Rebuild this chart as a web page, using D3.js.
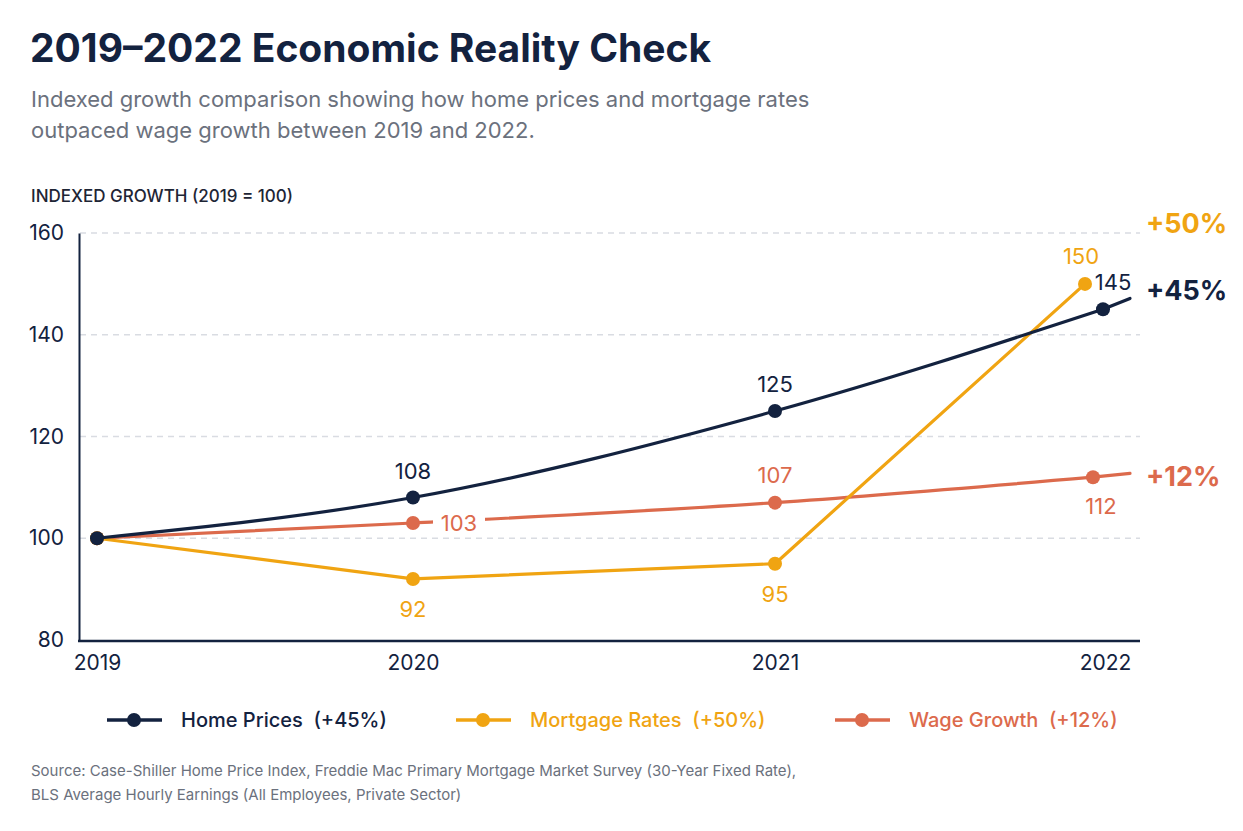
<html>
<head>
<script src="https://d3js.org/d3.v7.min.js"></script>
<style>
  body { margin: 0; background: #fff; }
  text { font-family: Inter, "Noto Sans", sans-serif; }
</style>
</head>
<body>
<script>
  const width = 1243, height = 831;

  // data
  const years = [2019, 2020, 2021, 2022];
  const homePrices = [100, 108, 125, 145];
  const mortgageRates = [100, 92, 95, 150];
  const wageGrowth = [100, 103, 107, 112];
  const yTicks = [80, 100, 120, 140, 160];
  const seriesNames = ["Home Prices", "Mortgage Rates", "Wage Growth"];
  const endLabels = ["+45%", "+50%", "+12%"];

  const navy = "#13223f", gold = "#f0a412", coral = "#dc6a4c";
  const font = "Inter, 'Noto Sans', sans-serif";

  const svg = d3.select("body").append("svg")
    .attr("width", width).attr("height", height);

  // titles
  svg.append("text").attr("x", 30).attr("y", 62)
    .attr("font-size", 39).attr("font-weight", 700).attr("fill", navy)
    .text("2019\u20132022 Economic Reality Check");
  svg.append("text").attr("x", 31).attr("y", 107)
    .attr("font-size", 22).attr("fill", "#6b717d")
    .text("Indexed growth comparison showing how home prices and mortgage rates");
  svg.append("text").attr("x", 31).attr("y", 138)
    .attr("font-size", 22).attr("fill", "#6b717d")
    .text("outpaced wage growth between 2019 and 2022.");
  svg.append("text").attr("x", 31).attr("y", 202)
    .attr("font-size", 17).attr("font-weight", 500).attr("fill", "#1e2535")
    .text("INDEXED GROWTH (2019 = 100)");

  // scales
  const x = d3.scaleLinear().domain(years).range([97, 413, 775, 1095]);
  const y = d3.scaleLinear().domain([80, 160]).range([640, 233]);
  const xEnd = 1140;

  // gridlines
  svg.append("g").selectAll("line").data(yTicks.filter(d => d > 80)).join("line")
    .attr("x1", 80).attr("x2", xEnd)
    .attr("y1", d => y(d)).attr("y2", d => y(d))
    .attr("stroke", "#d9dce2").attr("stroke-width", 1.3)
    .attr("stroke-dasharray", "6,5");

  // axes
  const yAxis = svg.append("g").attr("transform", "translate(79,0)")
    .call(d3.axisLeft(y).tickValues(yTicks).tickSize(0).tickPadding(15));
  yAxis.select(".domain").attr("stroke", navy).attr("stroke-width", 2);
  yAxis.selectAll("text").attr("font-size", 21).attr("fill", navy).attr("font-family", font);

  const xAxis = svg.append("g").attr("transform", "translate(0,641)")
    .call(d3.axisBottom(x).tickValues(years).tickFormat(d3.format("d")).tickSize(0).tickPadding(14));
  xAxis.select(".domain").remove();
  xAxis.selectAll("text").attr("font-size", 21).attr("fill", navy).attr("font-family", font);
  xAxis.selectAll(".tick text").filter(d => d === 2022).attr("dx", 10);
  svg.append("line").attr("x1", 78).attr("x2", xEnd).attr("y1", 641).attr("y2", 641)
    .attr("stroke", navy).attr("stroke-width", 2.5);

  const series = [
    { name: seriesNames[0], values: homePrices, color: navy, extend: true, dx: 8, curve: d3.curveMonotoneX },
    { name: seriesNames[1], values: mortgageRates, color: gold, extend: false, dx: -10, curve: d3.curveLinear },
    { name: seriesNames[2], values: wageGrowth, color: coral, extend: true, dx: -2, curve: d3.curveMonotoneX }
  ];
  // small horizontal nudge at the last year so the end points do not sit on top of each other
  const px = (s, yr) => x(yr) + (yr === 2022 ? s.dx : 0);

  // draw wage first, then mortgage, then home prices on top
  [series[2], series[1], series[0]].forEach(s => {
    const pts = years.map((yr, i) => [yr, s.values[i]]);
    const line = d3.line().x(d => px(s, d[0])).y(d => y(d[1])).curve(s.curve);
    svg.append("path").attr("d", line(pts))
      .attr("fill", "none").attr("stroke", s.color).attr("stroke-width", 3.2)
      .attr("stroke-linecap", "round").attr("stroke-linejoin", "round");
    if (s.extend) {
      // short continuation of the last segment towards the right edge
      const n = pts.length;
      const x0 = px(s, pts[n - 2][0]), x1 = px(s, pts[n - 1][0]);
      const slope = (y(pts[n - 1][1]) - y(pts[n - 2][1])) / (x1 - x0);
      const y1 = y(pts[n - 1][1]);
      svg.append("line").attr("x1", x1).attr("y1", y1)
        .attr("x2", xEnd - 10).attr("y2", y1 + slope * (xEnd - 10 - x1) * 1.3)
        .attr("stroke", s.color).attr("stroke-width", 3.2).attr("stroke-linecap", "round");
    }
    svg.append("g").selectAll("circle").data(pts).join("circle")
      .attr("cx", d => px(s, d[0])).attr("cy", d => y(d[1])).attr("r", 7)
      .attr("fill", s.color);
  });

  // value labels
  const label = (color) => svg.append("text").attr("font-size", 22).attr("fill", color)
    .attr("text-anchor", "middle");
  homePrices.forEach((v, i) => {
    if (i === 0) return;
    label(navy).attr("x", px(series[0], years[i]) + (i === 3 ? 10 : 0))
      .attr("y", y(v) - 19).text(v);
  });
  mortgageRates.forEach((v, i) => {
    if (i === 0) return;
    label(gold).attr("x", px(series[1], years[i]) - (i === 3 ? 4 : 0))
      .attr("y", i === 3 ? y(v) - 20 : y(v) + 38).text(v);
  });
  wageGrowth.forEach((v, i) => {
    if (i === 0) return;
    if (i === 1) {
      const tx = x(years[i]) + 46, ty = y(v) + 8;
      svg.append("rect").attr("x", tx - 26).attr("y", ty - 19)
        .attr("width", 52).attr("height", 24).attr("fill", "#fff");
      label(coral).attr("x", tx).attr("y", ty).text(v);
    } else if (i === 2) {
      label(coral).attr("x", x(years[i])).attr("y", y(v) - 20).text(v);
    } else {
      label(coral).attr("x", px(series[2], years[i]) + 8).attr("y", y(v) + 37).text(v);
    }
  });

  // end labels
  const endColors = [navy, gold, coral];
  const endY = [300, 233, 486];
  endLabels.forEach((t, i) => {
    svg.append("text").attr("x", 1146).attr("y", endY[i])
      .attr("font-size", 27).attr("font-weight", 700).attr("fill", endColors[i]).text(t);
  });

  // legend
  const legendX = [107, 456, 835];
  series.forEach((s, i) => {
    const g = svg.append("g").attr("transform", `translate(${legendX[i]},720)`);
    g.append("line").attr("x1", 0).attr("x2", 55).attr("stroke", s.color).attr("stroke-width", 3.5);
    g.append("circle").attr("cx", 27).attr("r", 7).attr("fill", s.color);
    g.append("text").attr("x", 74).attr("y", 7).attr("font-size", 20).attr("font-weight", 500)
      .attr("fill", s.color).attr("xml:space", "preserve")
      .text(`${s.name}  (${endLabels[i]})`);
  });

  // source
  svg.append("text").attr("x", 31).attr("y", 776).attr("font-size", 15).attr("fill", "#6b717d")
    .text("Source: Case-Shiller Home Price Index, Freddie Mac Primary Mortgage Market Survey (30-Year Fixed Rate),");
  svg.append("text").attr("x", 31).attr("y", 800).attr("font-size", 15).attr("fill", "#6b717d")
    .text("BLS Average Hourly Earnings (All Employees, Private Sector)");
</script>
</body>
</html>
